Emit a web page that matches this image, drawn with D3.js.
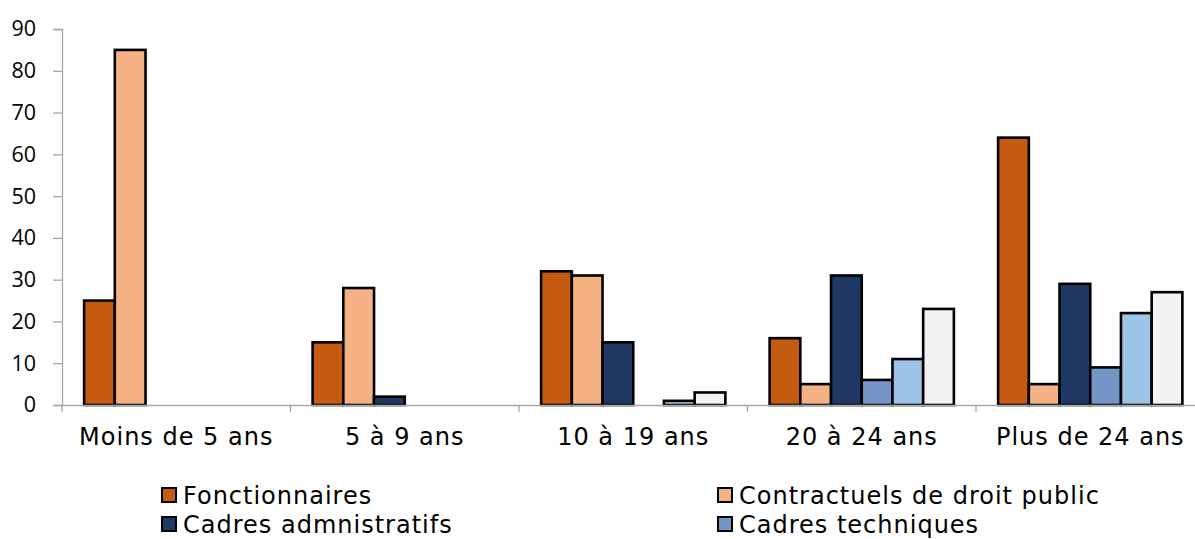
<!DOCTYPE html>
<html>
<head>
<meta charset="utf-8">
<script src="https://cdn.jsdelivr.net/npm/d3@7"></script>
<style>
  html, body { margin: 0; padding: 0; background: #fff; }
  svg { display: block; }
</style>
</head>
<body>
<svg id="chart" width="1195" height="539"></svg>
<script>
// Tranches d'ancienneté
const categories = ["Moins de 5 ans", "5 à 9 ans", "10 à 19 ans", "20 à 24 ans", "Plus de 24 ans"];

// Effectifs par catégorie de personnel
const fonctionnaires = [25, 15, 32, 16, 64];
const contractuels   = [85, 28, 31, 5, 5];
const cadresAdmin    = [0, 2, 15, 31, 29];
const cadresTech     = [0, 0, 0, 6, 9];
const serie5         = [0, 0, 1, 11, 22];
const serie6         = [0, 0, 3, 23, 27];

const yTicks = [0, 10, 20, 30, 40, 50, 60, 70, 80, 90];

const series = [
  { name: "Fonctionnaires", values: fonctionnaires, color: "#c55a11", legend: true },
  { name: "Contractuels de droit public", values: contractuels, color: "#f4b183", legend: true },
  { name: "Cadres admnistratifs", values: cadresAdmin, color: "#203864", legend: true },
  { name: "Cadres techniques", values: cadresTech, color: "#7396c6", legend: true },
  { name: "Série 5", values: serie5, color: "#9dc3e6", legend: false },
  { name: "Série 6", values: serie6, color: "#f2f2f2", legend: false }
];

const svg = d3.select("#chart");
const margin = { left: 62, top: 29, bottom: 405 };
const plotRight = 62 + 5 * 228.5;

const x = d3.scaleBand().domain(categories).range([margin.left, plotRight]).paddingInner(0).paddingOuter(0);
const inner = d3.scaleBand().domain(series.map(s => s.name))
  .range([0, x.bandwidth()]).paddingInner(0).paddingOuter(0.72);
const y = d3.scaleLinear().domain([0, 90]).range([margin.bottom, margin.top]);

const tickFont = "'Open Sans', 'Noto Sans', sans-serif";
const textFont = "'DejaVu Sans', sans-serif";
const axisColor = "#a6a6a6";

// Y axis
const yAxis = svg.append("g").attr("transform", `translate(${margin.left},0)`)
  .call(d3.axisLeft(y).tickValues(yTicks).tickSize(9).tickPadding(17).tickFormat(d3.format("d")));
yAxis.select(".domain").attr("stroke", axisColor).attr("stroke-width", 1.3);
yAxis.selectAll(".tick line").attr("stroke", axisColor).attr("stroke-width", 1.3);
yAxis.selectAll(".tick text").attr("fill", "#000").style("font-family", tickFont).style("font-size", "21.5px");

// Bars
const groups = svg.append("g").selectAll("g").data(series).join("g").attr("fill", d => d.color);
groups.selectAll("rect")
  .data(s => s.values.map((v, i) => ({ s: s.name, cat: categories[i], v })).filter(d => d.v > 0))
  .join("rect")
  .attr("x", d => x(d.cat) + inner(d.s))
  .attr("width", inner.bandwidth())
  .attr("y", d => y(d.v))
  .attr("height", d => y(0) - y(d.v))
  .attr("stroke", "#000")
  .attr("stroke-width", 2.6);

// X axis
const xAxis = svg.append("g").attr("transform", `translate(0,${margin.bottom})`)
  .call(d3.axisBottom(x).tickSize(0).tickPadding(23));
xAxis.select(".domain").attr("stroke", axisColor).attr("stroke-width", 1.3);
xAxis.selectAll(".tick text").attr("fill", "#000").style("font-family", textFont)
  .style("font-size", "24px").style("letter-spacing", "1px");
// separators between categories
const seps = d3.range(categories.length + 1).map(i => margin.left + i * x.bandwidth());
svg.append("g").selectAll("line").data(seps).join("line")
  .attr("x1", d => d).attr("x2", d => d)
  .attr("y1", margin.bottom).attr("y2", margin.bottom + 7)
  .attr("stroke", axisColor).attr("stroke-width", 1.3);

// Legend
const legendItems = series.filter(s => s.legend);
const legendPos = [[162, 495], [718, 495], [162, 524], [718, 524]];
const lg = svg.append("g").selectAll("g").data(legendItems).join("g")
  .attr("transform", (d, i) => `translate(${legendPos[i][0]},${legendPos[i][1]})`);
lg.append("rect").attr("x", 0).attr("y", -7).attr("width", 14).attr("height", 14)
  .attr("fill", d => d.color).attr("stroke", "#000").attr("stroke-width", 2);
lg.append("text").attr("x", 21).attr("y", 0).attr("dy", "0.36em")
  .style("font-family", textFont).style("font-size", "24px").style("letter-spacing", "1px")
  .attr("fill", "#000")
  .text(d => d.name);
</script>
</body>
</html>
